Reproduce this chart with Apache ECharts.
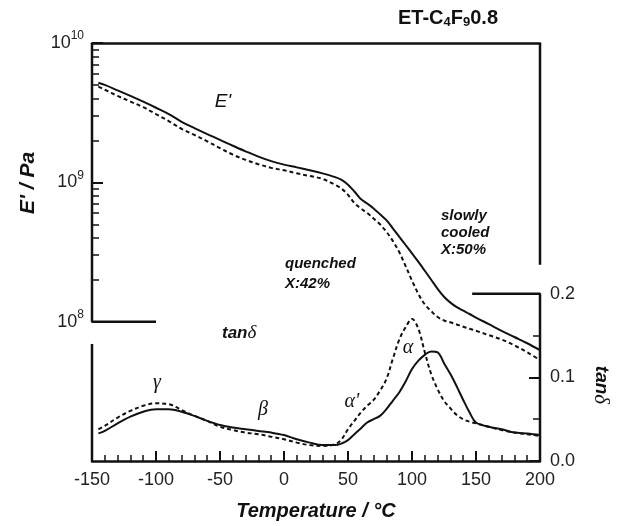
<!DOCTYPE html>
<html>
<head>
<meta charset="utf-8">
<script src="https://cdn.jsdelivr.net/npm/echarts@6/dist/echarts.min.js"></script>
<style>
  html, body { margin: 0; padding: 0; background: #fff; }
  #main { width: 617px; height: 526px; }
</style>
</head>
<body>
<div id="main"></div>
<script>
// temperatures (°C) shared by all four curves
var temps = [-145, -140, -130, -120, -110, -100, -90, -80, -70, -60, -50, -40, -30, -20, -10, 0,
  10, 20, 30, 40, 45, 50, 55, 60, 65, 70, 75, 80, 85, 90, 95, 100, 105, 110, 115, 120, 125,
  130, 135, 140, 145, 150, 160, 170, 180, 190, 200];

// E' (Pa), slowly cooled (solid) and quenched (dashed)
var eSlow = [5.19e9, 5.0e9, 4.57e9, 4.17e9, 3.79e9, 3.43e9, 3.09e9, 2.72e9, 2.45e9, 2.22e9, 2.02e9,
  1.83e9, 1.67e9, 1.53e9, 1.42e9, 1.34e9, 1.28e9, 1.22e9, 1.16e9, 1.09e9, 1.04e9, 9.6e8, 8.6e8,
  7.6e8, 7.05e8, 6.5e8, 5.9e8, 5.35e8, 4.68e8, 4.07e8, 3.55e8, 3.09e8, 2.69e8, 2.32e8, 2.0e8,
  1.72e8, 1.51e8, 1.37e8, 1.27e8, 1.20e8, 1.135e8, 1.07e8, 9.6e7, 8.6e7, 7.76e7, 7.0e7, 6.24e7];
var eQuench = [4.86e9, 4.62e9, 4.17e9, 3.8e9, 3.46e9, 3.09e9, 2.75e9, 2.42e9, 2.19e9, 1.97e9, 1.76e9,
  1.58e9, 1.45e9, 1.35e9, 1.27e9, 1.22e9, 1.16e9, 1.11e9, 1.06e9, 9.6e8, 9.0e8, 8.13e8, 7.1e8,
  6.5e8, 6.03e8, 5.5e8, 5.0e8, 4.42e8, 3.8e8, 3.16e8, 2.51e8, 1.97e8, 1.58e8, 1.33e8, 1.19e8,
  1.08e8, 1.02e8, 9.9e7, 9.55e7, 9.2e7, 8.9e7, 8.6e7, 8.0e7, 7.45e7, 6.76e7, 6.03e7, 5.3e7];

// tan delta, slowly cooled (solid) and quenched (dashed)
var tanSlow = [0.033, 0.036, 0.045, 0.053, 0.059, 0.062, 0.062, 0.059, 0.054, 0.048, 0.043, 0.040,
  0.038, 0.036, 0.034, 0.031, 0.026, 0.022, 0.019, 0.019, 0.021, 0.025, 0.032, 0.039, 0.046, 0.050,
  0.054, 0.062, 0.072, 0.082, 0.095, 0.110, 0.120, 0.127, 0.131, 0.130, 0.117, 0.104, 0.089, 0.073,
  0.058, 0.046, 0.041, 0.038, 0.034, 0.033, 0.031];
var tanQuench = [0.038, 0.042, 0.052, 0.060, 0.066, 0.069, 0.068, 0.061, 0.054, 0.048, 0.041, 0.037,
  0.034, 0.032, 0.029, 0.026, 0.022, 0.019, 0.018, 0.020, 0.026, 0.038, 0.048, 0.058, 0.066, 0.073,
  0.084, 0.098, 0.122, 0.145, 0.160, 0.170, 0.158, 0.130, 0.104, 0.086, 0.072, 0.063, 0.055, 0.050,
  0.047, 0.045, 0.041, 0.037, 0.034, 0.032, 0.030];

// tick values
var eMajor = [1e8, 1e9, 1e10];
var eMinor = [2e8, 3e8, 4e8, 5e8, 6e8, 7e8, 8e8, 9e8, 2e9, 3e9, 4e9, 5e9, 6e9, 7e9, 8e9, 9e9];
var tanMajor = [0, 0.1, 0.2];
var tanMinor = [0.05, 0.15];

function pairs(xs, ys) {
  var out = [];
  for (var i = 0; i < xs.length; i++) out.push([xs[i], ys[i]]);
  return out;
}

var sans = '"Liberation Sans", Arial, sans-serif';
var serif = '"Liberation Serif", "DejaVu Serif", serif';
var black = '#111';

function frame(data, yIdx) {
  return {
    type: 'line', data: data, yAxisIndex: yIdx, symbol: 'none', silent: true, clip: false,
    lineStyle: { color: black, width: 2.5 }, z: 1
  };
}
function curve(data, yIdx, dashed) {
  return {
    type: 'line', data: data, yAxisIndex: yIdx, symbol: 'none', smooth: 0.35, z: 3,
    lineStyle: { color: black, width: 2, type: dashed ? [4, 3] : 'solid' }
  };
}

var chart = echarts.init(document.getElementById('main'));
chart.setOption({
  animation: false,
  backgroundColor: '#fff',
  grid: { left: 92, right: 77, top: 43, bottom: 65 },
  xAxis: [{
    type: 'value', min: -150, max: 200, interval: 50, position: 'bottom',
    axisLine: { show: true, onZero: false, lineStyle: { color: black, width: 2.5 } },
    axisTick: { show: true, inside: true, length: 10, lineStyle: { color: black, width: 2 } },
    minorTick: { show: true, splitNumber: 5, length: 6, lineStyle: { color: black, width: 1.5 } },
    axisLabel: { fontSize: 18, color: '#222', margin: 10, fontFamily: sans },
    splitLine: { show: false }
  }, {
    type: 'value', min: -150, max: 200, position: 'top',
    axisLine: { show: true, onZero: false, lineStyle: { color: black, width: 2.5 } },
    axisTick: { show: false }, axisLabel: { show: false }, splitLine: { show: false }
  }],
  yAxis: [{
    type: 'log', logBase: 10, min: 1e7, max: 1e10, position: 'left',
    axisLine: { show: false, onZero: false },
    axisTick: { show: true, inside: true, length: 11, customValues: eMajor, lineStyle: { color: black, width: 2 } },
    axisLabel: {
      customValues: eMajor, margin: 8,
      formatter: function (v) { return '{b|10}{s|' + Math.round(Math.log10(v)) + '}'; },
      rich: {
        b: { fontSize: 18, color: '#222', fontFamily: sans, lineHeight: 26 },
        s: { fontSize: 12, color: '#222', fontFamily: sans, verticalAlign: 'top' }
      }
    },
    splitLine: { show: false }
  }, {
    type: 'log', logBase: 10, min: 1e7, max: 1e10, position: 'left',
    axisLine: { show: false, onZero: false },
    axisTick: { show: true, inside: true, length: 7, customValues: eMinor, lineStyle: { color: black, width: 1.5 } },
    axisLabel: { show: false }, splitLine: { show: false }
  }, {
    type: 'value', min: 0, max: 0.5, position: 'right',
    axisLine: { show: false, onZero: false },
    axisTick: { show: true, inside: true, length: 11, customValues: tanMajor, lineStyle: { color: black, width: 2 } },
    axisLabel: {
      customValues: tanMajor, margin: 10, fontSize: 18, color: '#222', fontFamily: sans,
      formatter: function (v) { return v.toFixed(1); }
    },
    splitLine: { show: false }
  }, {
    type: 'value', min: 0, max: 0.5, position: 'right',
    axisLine: { show: false, onZero: false },
    axisTick: { show: true, inside: true, length: 7, customValues: tanMinor, lineStyle: { color: black, width: 1.5 } },
    axisLabel: { show: false }, splitLine: { show: false }
  }],
  series: [
    // broken frame pieces
    frame([[-150, 1e10], [-150, 1e8], [-100, 1e8]], 0),
    frame([[-150, 0], [-150, 0.14]], 2),
    frame([[200, 1e10], [200, 2.56e8]], 0),
    frame([[147, 0.2], [200, 0.2], [200, 0]], 2),
    curve(pairs(temps, eSlow), 0, false),
    curve(pairs(temps, eQuench), 0, true),
    curve(pairs(temps, tanSlow), 2, false),
    curve(pairs(temps, tanQuench), 2, true)
  ],
  graphic: [
    { type: 'text', x: 448, y: 18, style: {
      text: '{a|ET-C}{b|4}{a|F}{b|9}{a|0.8}', align: 'center', verticalAlign: 'middle',
      rich: {
        a: { font: 'bold 20px ' + sans, fill: black, lineHeight: 22 },
        b: { font: 'bold 13px ' + sans, fill: black, verticalAlign: 'bottom', lineHeight: 18 }
      } } },
    { type: 'text', x: 28, y: 183, rotation: Math.PI / 2, style: {
      text: "E' / Pa", font: 'italic bold 21px ' + sans, fill: black, align: 'center', verticalAlign: 'middle' } },
    { type: 'text', x: 316, y: 511, style: {
      text: 'Temperature / °C', font: 'italic bold 20px ' + sans, fill: black, align: 'center', verticalAlign: 'middle' } },
    { type: 'text', x: 601, y: 385, rotation: -Math.PI / 2, style: {
      text: '{a|tan}{d|δ}', align: 'center', verticalAlign: 'middle',
      rich: { a: { font: 'italic bold 19px ' + sans, fill: black }, d: { font: 'italic 21px ' + serif, fill: black } } } },
    { type: 'text', x: 223, y: 102, style: {
      text: "E'", font: 'italic 19px ' + sans, fill: black, align: 'center', verticalAlign: 'middle' } },
    { type: 'text', x: 285, y: 254, style: {
      text: 'quenched\nX:42%', font: 'italic bold 15px ' + sans, lineHeight: 20, fill: black, align: 'left', verticalAlign: 'top' } },
    { type: 'text', x: 441, y: 207, style: {
      text: 'slowly\ncooled\nX:50%', font: 'italic bold 15px ' + sans, lineHeight: 17, fill: black, align: 'left', verticalAlign: 'top' } },
    { type: 'text', x: 222, y: 333, style: {
      text: '{a|tan}{d|δ}', align: 'left', verticalAlign: 'middle',
      rich: { a: { font: 'italic bold 17px ' + sans, fill: black }, d: { font: 'italic 19px ' + serif, fill: black } } } },
    { type: 'text', x: 157, y: 383, style: { text: 'γ', font: 'italic 20px ' + serif, fill: black, align: 'center', verticalAlign: 'middle' } },
    { type: 'text', x: 263, y: 410, style: { text: 'β', font: 'italic 20px ' + serif, fill: black, align: 'center', verticalAlign: 'middle' } },
    { type: 'text', x: 352, y: 402, style: { text: "α'", font: 'italic 20px ' + serif, fill: black, align: 'center', verticalAlign: 'middle' } },
    { type: 'text', x: 408, y: 348, style: { text: 'α', font: 'italic 20px ' + serif, fill: black, align: 'center', verticalAlign: 'middle' } }
  ]
});
</script>
</body>
</html>
